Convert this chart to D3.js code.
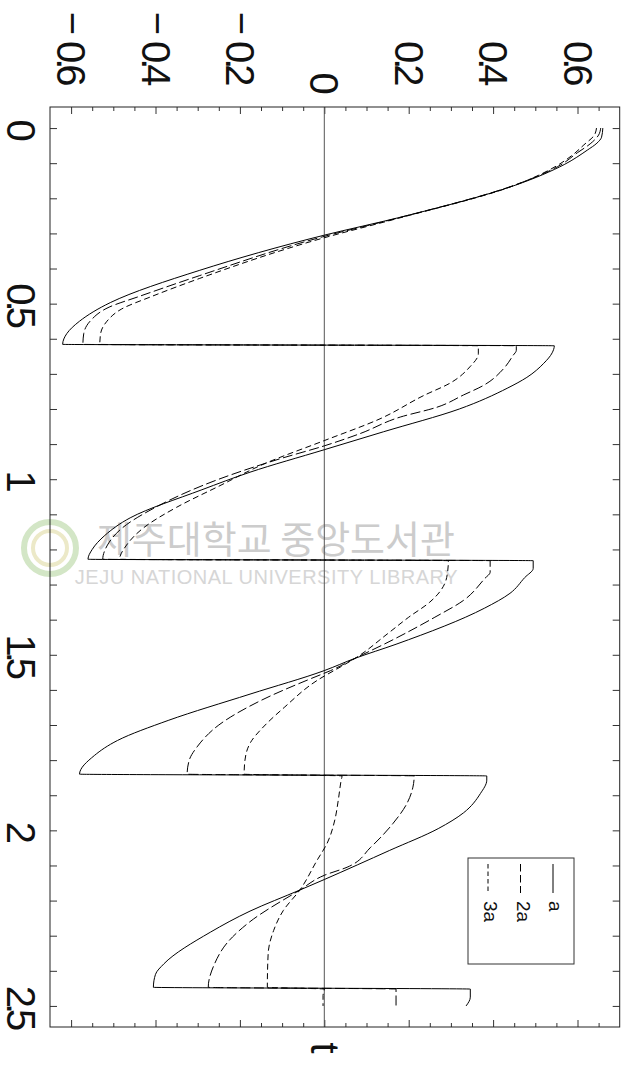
<!DOCTYPE html>
<html>
<head>
<meta charset="utf-8">
<script src="https://cdn.jsdelivr.net/npm/d3@7"></script>
<style>
  html, body { margin: 0; padding: 0; background: #fff; }
  svg { display: block; }
</style>
</head>
<body>
<div id="chart"></div>
<script>
// series "a" (solid)
const tA = [0.000, 0.026, 0.043, 0.063, 0.103, 0.163, 0.254, 0.305, 0.405, 0.497, 0.55, 0.585, 0.616,
  0.620, 0.64, 0.67, 0.71, 0.74, 0.80, 0.865, 0.916, 0.98, 1.03, 1.11, 1.16, 1.20, 1.228,
  1.232, 1.254, 1.28, 1.325, 1.367, 1.47, 1.51, 1.545, 1.612, 1.687, 1.744, 1.787, 1.84,
  1.845, 1.857, 1.895, 1.95, 1.995, 2.057, 2.14, 2.17, 2.23, 2.29, 2.38, 2.41, 2.447,
  2.452, 2.475, 2.50];
const vA = [0.660, 0.657, 0.646, 0.623, 0.570, 0.452, 0.180, 0.000, -0.295, -0.507, -0.580, -0.610, -0.620,
  0.545, 0.54, 0.52, 0.48, 0.435, 0.32, 0.14, 0.0, -0.176, -0.29, -0.46, -0.52, -0.55, -0.56,
  0.495, 0.495, 0.475, 0.44, 0.38, 0.17, 0.073, 0.0, -0.176, -0.37, -0.49, -0.545, -0.58,
  0.385, 0.385, 0.37, 0.33, 0.27, 0.155, 0.0, -0.058, -0.176, -0.27, -0.38, -0.40, -0.405,
  0.346, 0.346, 0.336];

// series "2a" (long dash)
const tB = [0.000, 0.02, 0.045, 0.07, 0.105, 0.165, 0.256, 0.31, 0.42, 0.48, 0.51, 0.55, 0.585, 0.616,
  0.620, 0.633, 0.648, 0.685, 0.733, 0.76, 0.795, 0.823, 0.87, 0.905, 0.94, 1.0, 1.08, 1.14, 1.19, 1.228,
  1.232, 1.265, 1.283, 1.345, 1.393, 1.457, 1.51, 1.545, 1.567, 1.63, 1.70, 1.76, 1.80, 1.84,
  1.845, 1.877, 1.923, 1.98, 2.048, 2.105, 2.128, 2.17, 2.26, 2.32, 2.38, 2.447,
  2.452, 2.50];
const vB = [0.655, 0.650, 0.630, 0.600, 0.560, 0.445, 0.175, -0.005, -0.295, -0.44, -0.51, -0.555, -0.57, -0.572,
  0.455, 0.455, 0.447, 0.425, 0.377, 0.33, 0.267, 0.18, 0.085, 0.0, -0.1, -0.25, -0.40, -0.48, -0.515, -0.525,
  0.393, 0.393, 0.38, 0.33, 0.262, 0.163, 0.073, 0.015, -0.03, -0.15, -0.25, -0.30, -0.32, -0.325,
  0.213, 0.21, 0.196, 0.163, 0.11, 0.054, 0.0, -0.058, -0.176, -0.23, -0.26, -0.275,
  0.17, 0.17];

// series "3a" (short dash)
const tC = [0.000, 0.02, 0.048, 0.075, 0.108, 0.168, 0.258, 0.315, 0.428, 0.48, 0.515, 0.55, 0.585, 0.616,
  0.620, 0.643, 0.68, 0.725, 0.762, 0.828, 0.89, 0.955, 1.02, 1.08, 1.14, 1.19, 1.228,
  1.232, 1.28, 1.32, 1.35, 1.393, 1.44, 1.51, 1.53, 1.573, 1.65, 1.70, 1.75, 1.80, 1.84,
  1.845, 1.857, 1.915, 1.97, 2.036, 2.085, 2.17, 2.228, 2.285, 2.35, 2.447,
  2.452, 2.47, 2.50];
const vC = [0.645, 0.640, 0.615, 0.590, 0.550, 0.440, 0.172, -0.008, -0.295, -0.41, -0.48, -0.515, -0.53, -0.532,
  0.365, 0.365, 0.345, 0.30, 0.235, 0.132, 0.0, -0.14, -0.25, -0.35, -0.43, -0.47, -0.485,
  0.294, 0.29, 0.274, 0.25, 0.2, 0.15, 0.073, 0.045, -0.017, -0.095, -0.14, -0.175, -0.188, -0.19,
  0.042, 0.04, 0.033, 0.025, 0.007, -0.017, -0.058, -0.097, -0.12, -0.133, -0.135,
  0.0, -0.003, -0.003];

const seriesNames = ["a", "2a", "3a"];
const valueTicks = [-0.6, -0.4, -0.2, 0, 0.2, 0.4, 0.6];
const tTicks = [0, 0.5, 1, 1.5, 2, 2.5];
const tTickLabels = ["0", "0.5", "1", "1.5", "2", "2.5"];
const axisTitle = "t";

const drawChart = () => {
  const width = 627;
  const height = 1073;
  // the whole figure is turned a quarter clockwise: t runs down, values run left to right
  const frame = { left: 50, right: 619.7, top: 107, bottom: 1027 };
  const font = "'Liberation Sans', Arial, Helvetica, sans-serif";

  const svg = d3.select("#chart")
    .append("svg")
    .attr("width", width)
    .attr("height", height);

  const x = d3.scaleLinear().domain([-0.65, 0.7]).range([frame.left, frame.right]);
  const y = d3.scaleLinear().domain([-0.06, 2.56]).range([frame.top, frame.bottom]);

  // watermark of the scanned source (drawn under everything)
  const wm = svg.append("g").attr("class", "watermark");
  wm.append("circle")
    .attr("cx", 50).attr("cy", 548).attr("r", 26)
    .attr("fill", "none").attr("stroke", "#d3e6c6").attr("stroke-width", 6);
  wm.append("circle")
    .attr("cx", 50).attr("cy", 548).attr("r", 17)
    .attr("fill", "none").attr("stroke", "#ece9c8").attr("stroke-width", 4);
  wm.append("text")
    .attr("x", 455).attr("y", 553)
    .attr("text-anchor", "end")
    .attr("font-family", "'Noto Sans CJK KR', sans-serif")
    .attr("font-size", 38)
    .attr("fill", "#cccccc")
    .text("제주대학교 중앙도서관");
  wm.append("text")
    .attr("x", 458).attr("y", 584)
    .attr("text-anchor", "end")
    .attr("font-family", font)
    .attr("font-size", 20)
    .attr("letter-spacing", 0.5)
    .attr("fill", "#d6d6d6")
    .text("JEJU NATIONAL UNIVERSITY LIBRARY");

  // ticks on all four sides, pointing inward
  const majorV = d3.range(-3, 4).map(i => i * 0.2);
  const minorV = d3.range(-12, 14).map(i => i * 0.05).filter(v => Math.abs(Math.round(v * 5) - v * 5) > 1e-6);
  const tMinor = d3.range(0, 26).map(i => i / 10);

  const axisColor = "#333";
  const cleanDomain = g => g.select(".domain").remove();

  [[d3.axisTop, frame.top], [d3.axisBottom, frame.bottom]].forEach(([ax, pos]) => {
    svg.append("g").attr("transform", `translate(0,${pos})`).attr("color", axisColor)
      .call(ax(x).tickValues(minorV).tickSize(-4).tickFormat("")).call(cleanDomain);
    svg.append("g").attr("transform", `translate(0,${pos})`).attr("color", axisColor)
      .call(ax(x).tickValues(majorV).tickSize(-7).tickFormat("")).call(cleanDomain);
  });
  [[d3.axisLeft, frame.left], [d3.axisRight, frame.right]].forEach(([ax, pos]) => {
    svg.append("g").attr("transform", `translate(${pos},0)`).attr("color", axisColor)
      .call(ax(y).tickValues(tMinor).tickSize(-7).tickFormat("")).call(cleanDomain);
  });

  // zero line
  svg.append("line")
    .attr("x1", x(0)).attr("x2", x(0))
    .attr("y1", frame.top).attr("y2", frame.bottom)
    .attr("stroke", "#555").attr("stroke-width", 1);

  // frame
  svg.append("rect")
    .attr("x", frame.left).attr("y", frame.top)
    .attr("width", frame.right - frame.left)
    .attr("height", frame.bottom - frame.top)
    .attr("fill", "none").attr("stroke", "#222").attr("stroke-width", 1);

  // value labels above the frame (rotated)
  const labels = svg.append("g")
    .attr("font-family", font)
    .attr("font-size", 40)
    .attr("fill", "#111");

  labels.selectAll("text.num")
    .data(valueTicks)
    .join("text")
    .attr("class", "num")
    .attr("transform", d => `translate(${x(d)},${d === 0 ? 72.5 : 41}) rotate(90)`)
    .attr("dy", "0.35em")
    .attr("letter-spacing", -5)
    .text(d => d === 0 ? "0" : d3.format(".1f")(Math.abs(d)));

  labels.selectAll("text.minus")
    .data(valueTicks.filter(d => d < 0))
    .join("text")
    .attr("class", "minus")
    .attr("transform", d => `translate(${x(d)},35) rotate(90)`)
    .attr("dy", "0.3em")
    .attr("text-anchor", "end")
    .text("\u2212");

  // t labels left of the frame
  labels.selectAll("text.tlab")
    .data(tTicks)
    .join("text")
    .attr("class", "tlab")
    .attr("transform", d => `translate(6.5,${y(d)}) rotate(90)`)
    .attr("text-anchor", "middle")
    .attr("letter-spacing", -5)
    .text((d, i) => tTickLabels[i]);

  labels.append("text")
    .attr("transform", `translate(${x(0) - 13},1048) rotate(90)`)
    .attr("text-anchor", "middle")
    .text(axisTitle);

  // curves: t increases along each path, so a monotone fit keeps the jumps sharp
  const dashes = ["none", "10,3.5", "6,3.5"];
  const series = [d3.zip(tA, vA), d3.zip(tB, vB), d3.zip(tC, vC)];
  const line = d3.line()
    .curve(d3.curveMonotoneY)
    .x(d => x(d[1]))
    .y(d => y(d[0]));

  svg.append("g")
    .selectAll("path")
    .data(series)
    .join("path")
    .attr("d", line)
    .attr("fill", "none")
    .attr("stroke", "#000")
    .attr("stroke-width", 1)
    .attr("stroke-dasharray", (d, i) => dashes[i]);

  // legend box
  const legend = svg.append("g");
  legend.append("rect")
    .attr("x", 468).attr("y", 858)
    .attr("width", 106).attr("height", 106)
    .attr("fill", "#fff").attr("stroke", "#333").attr("stroke-width", 1);

  const legendDashes = ["none", "7.5,3.5", "4.5,3"];
  const legendX = d3.scalePoint().domain(seriesNames).range([553, 488]);
  const item = legend.selectAll("g.item")
    .data(seriesNames)
    .join("g")
    .attr("class", "item");
  item.append("line")
    .attr("x1", d => legendX(d)).attr("x2", d => legendX(d))
    .attr("y1", 864).attr("y2", 893)
    .attr("stroke", "#000").attr("stroke-width", 1)
    .attr("stroke-dasharray", (d, i) => legendDashes[i]);
  item.append("text")
    .attr("transform", d => `translate(${legendX(d) - 4},901) rotate(90)`)
    .attr("font-family", font)
    .attr("font-size", 19)
    .attr("fill", "#111")
    .text(d => d);
};

drawChart();
</script>
</body>
</html>
